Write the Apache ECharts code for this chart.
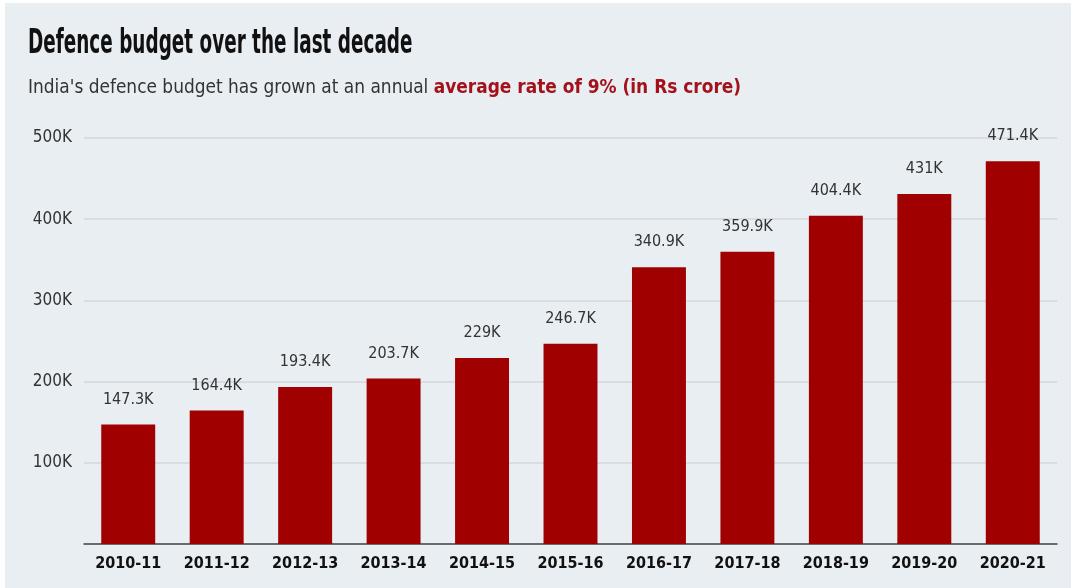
<!DOCTYPE html>
<html>
<head>
<meta charset="utf-8">
<script src="https://cdn.jsdelivr.net/npm/echarts@6/dist/echarts.min.js"></script>
<style>
  html, body { margin: 0; padding: 0; background: #ffffff; overflow: hidden; }
  #chart { position: absolute; left: 5px; top: 3px; width: 1066px; height: 585px; }
</style>
</head>
<body>
<div id="chart"></div>
<script>
// Fiscal years
const years = ['2010-11', '2011-12', '2012-13', '2013-14', '2014-15', '2015-16',
               '2016-17', '2017-18', '2018-19', '2019-20', '2020-21'];
// Defence budget, in thousands of Rs crore
const budgetK = [147.3, 164.4, 193.4, 203.7, 229, 246.7, 340.9, 359.9, 404.4, 431, 471.4];
// Y-axis ticks (in Rs crore)
const yTicks = [0, 100000, 200000, 300000, 400000, 500000];

const budget = budgetK.map(v => v * 1000);
const cond = '"DejaVu Sans Condensed", "Liberation Sans Narrow", sans-serif';

const chart = echarts.init(document.getElementById('chart'));
chart.setOption({
  backgroundColor: '#e9eef3',
  graphic: [
    {
      // headline, squeezed horizontally for a condensed look
      type: 'text',
      x: 23, y: 25,
      scaleX: 0.62,
      style: {
        text: 'Defence budget over the last decade',
        font: 'bold 33px ' + cond,
        fill: '#111111',
        textVerticalAlign: 'top'
      }
    },
    {
      type: 'text',
      x: 23, y: 75,
      scaleX: 0.945,
      style: {
        text: 'India\'s defence budget has grown at an annual {r|average rate of 9% (in Rs crore)}',
        font: '20px ' + cond,
        fill: '#333333',
        textVerticalAlign: 'top',
        rich: { r: { font: 'bold 20px ' + cond, fill: '#a3121a' } }
      }
    }
  ],
  grid: { left: 79, right: 14, top: 135, bottom: 44 },
  xAxis: {
    type: 'category',
    data: years,
    axisLine: { lineStyle: { color: '#444444', width: 1.5 } },
    axisTick: { show: false },
    axisLabel: { interval: 0, fontFamily: cond, fontWeight: 'bold', fontSize: 16, color: '#111111', margin: 12 }
  },
  yAxis: {
    type: 'value',
    min: yTicks[0],
    max: yTicks[yTicks.length - 1],
    interval: 100000,
    axisLine: { show: false },
    axisTick: { show: false },
    splitLine: { lineStyle: { color: '#d3d7dc', width: 1.5 } },
    axisLabel: {
      fontFamily: cond, fontSize: 17, color: '#333333', margin: 12,
      formatter: v => (v === 0 ? '' : (v / 1000) + 'K')
    }
  },
  series: [{
    type: 'bar',
    data: budget,
    barWidth: '61%',
    itemStyle: { color: '#a00000' },
    label: {
      show: true,
      position: 'top',
      distance: 17,
      fontFamily: cond, fontSize: 16, color: '#333333',
      formatter: p => (p.value / 1000) + 'K'
    }
  }]
});
</script>
</body>
</html>
